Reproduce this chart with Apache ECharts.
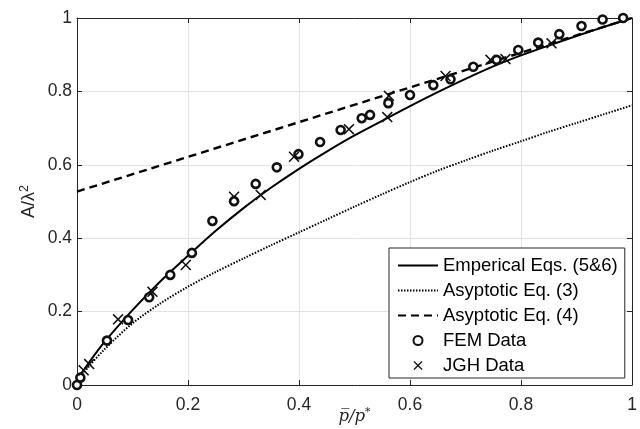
<!DOCTYPE html>
<html><head><meta charset="utf-8">
<script src="https://cdn.jsdelivr.net/npm/echarts@6/dist/echarts.min.js"></script>
<style>html,body{margin:0;padding:0;background:#fff}#c{width:640px;height:429px}</style>
</head><body><div id="c"></div>
<script>
const curveX = [0,0.01,0.02,0.05,0.1,0.15,0.2,0.25,0.3,0.35,0.4,0.45,0.5,0.55,0.6,0.65,0.7,0.75,0.8,0.85,0.9,0.95,1];
const empirical = [0,0.035,0.058,0.118,0.204,0.282,0.352,0.42,0.482,0.538,0.589,0.636,0.68,0.72,0.76,0.798,0.834,0.868,0.898,0.925,0.951,0.976,1];
const asym3 = [0,0.028,0.048,0.098,0.168,0.222,0.268,0.308,0.345,0.381,0.416,0.451,0.486,0.52,0.553,0.584,0.612,0.639,0.664,0.69,0.714,0.738,0.762];
const asym4X = [0,1];
const asym4 = [0.527,1.0];
const femX = [0,0.006,0.054,0.092,0.13,0.168,0.207,0.244,0.283,0.322,0.36,0.399,0.438,0.475,0.513,0.528,0.561,0.6,0.642,0.673,0.714,0.756,0.795,0.831,0.869,0.909,0.947,0.984];
const femY = [0,0.02,0.121,0.177,0.239,0.30,0.36,0.447,0.501,0.548,0.593,0.629,0.662,0.695,0.727,0.736,0.768,0.79,0.817,0.833,0.867,0.886,0.913,0.933,0.956,0.978,0.996,1.0];
const jghX = [0.012,0.022,0.074,0.136,0.196,0.283,0.331,0.391,0.49,0.559,0.562,0.664,0.745,0.772,0.855];
const jghY = [0.04,0.057,0.179,0.254,0.327,0.513,0.518,0.622,0.697,0.73,0.788,0.842,0.886,0.888,0.931];
const names = ['Emperical Eqs. (5&6)','Asyptotic Eq. (3)','Asyptotic Eq. (4)','FEM Data','JGH Data'];

const zip = (a,b) => a.map((v,i)=>[v,b[i]]);
const dark = '#262626';
const xShape = 'path://M0,1L1,0L5,4L9,0L10,1L6,5L10,9L9,10L5,6L1,10L0,9L4,5Z';
const lab = {color: dark, fontFamily: 'Liberation Sans', fontSize: 17.5};
const hide = {color:'rgba(0,0,0,0)', borderColor:'rgba(0,0,0,0)', borderWidth:0, opacity:0};
const frameAxis = (pos) => ({
  type:'value', min:0, max:1, interval:0.2, position: pos,
  axisLine:{show:true, onZero:false, lineStyle:{color:dark, width:1}},
  axisTick:{show:true, inside:true, length:5, lineStyle:{color:dark}},
  axisLabel:{show:false}, splitLine:{show:false}
});
const chart = echarts.init(document.getElementById('c'), null, {renderer:'canvas'});
chart.setOption({
  animation:false,
  backgroundColor:'#fff',
  grid:{left:77, right:8, top:18, bottom:44, containLabel:false, outerBoundsMode:'none'},
  legend:{
    left:389, top:248, orient:'vertical',
    backgroundColor:'#fff', borderColor:dark, borderWidth:1,
    padding:[8,7,3,8], itemGap:6, itemWidth:40, itemHeight:9,
    textStyle:{color:'#000', fontFamily:'Liberation Sans', fontSize:18.5, lineHeight:18},
    data: [
      {name:names[0], itemStyle:hide},
      {name:names[1], itemStyle:hide},
      {name:names[2], itemStyle:hide},
      {name:names[3]},
      {name:names[4]}
    ]
  },
  xAxis:[
    Object.assign(frameAxis('bottom'), {
      axisLabel:Object.assign({show:true, margin:11}, lab),
      splitLine:{show:true, lineStyle:{color:'#e3e3e3', width:1}},
      name:'{a|p\u0305/p}{s|*}', nameLocation:'middle', nameGap:22, nameMoveOverlap:false,
      nameTextStyle:{rich:{
        a:{fontFamily:'DejaVu Serif', fontStyle:'italic', fontSize:16.5, color:dark},
        s:{fontFamily:'DejaVu Serif', fontSize:11, color:dark, padding:[0,0,9,0]}
      }}
    }),
    frameAxis('top')
  ],
  yAxis:[
    Object.assign(frameAxis('left'), {
      axisLabel:Object.assign({show:true, margin:5}, lab),
      splitLine:{show:true, lineStyle:{color:'#e3e3e3', width:1}},
      name:'{a|A/\u03bb}{s|2}', nameLocation:'middle', nameGap:36, nameRotate:90, nameMoveOverlap:false,
      nameTextStyle:{rich:{
        a:{fontFamily:'Liberation Sans', fontSize:18, color:dark},
        s:{fontFamily:'Liberation Sans', fontSize:12.5, color:dark, padding:[0,0,10,0]}
      }}
    }),
    frameAxis('right')
  ],
  series:[
    {name:names[0], type:'line', data:zip(curveX, empirical), smooth:0.3, symbol:'none',
     itemStyle:{color:'#000'}, lineStyle:{color:'#000', width:2, type:'solid'}, z:3},
    {name:names[1], type:'line', data:zip(curveX, asym3), smooth:0.3, symbol:'none',
     itemStyle:{color:'#000'}, lineStyle:{color:'#000', width:2, type:[1.5,1.5]}, z:3},
    {name:names[2], type:'line', data:zip(asym4X, asym4), symbol:'none',
     itemStyle:{color:'#000'}, lineStyle:{color:'#000', width:2.4, type:[8,5]}, z:3},
    {name:names[3], type:'scatter', data:zip(femX, femY), symbol:'circle', symbolSize:8,
     itemStyle:{color:'#fff', borderColor:'#111', borderWidth:2.6, opacity:1}, z:4},
    {name:names[4], type:'scatter', data:zip(jghX, jghY), symbol:xShape, symbolSize:11,
     itemStyle:{color:'#111', opacity:1}, z:5}
  ]
});
</script></body></html>
